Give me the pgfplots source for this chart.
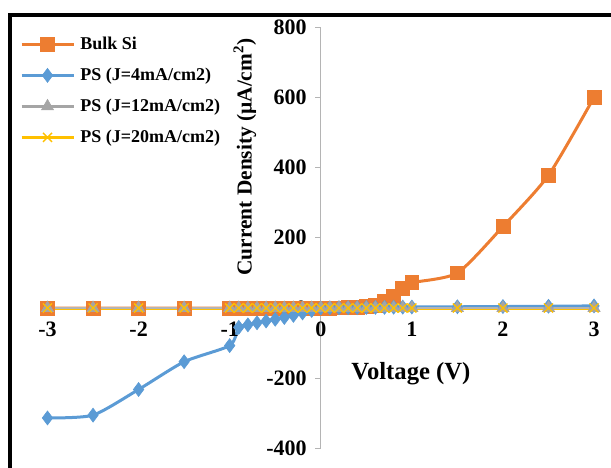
\documentclass[border=0pt]{standalone}
\usepackage{fontspec}
\setmainfont{Liberation Serif}
\usepackage{pgfplots}
\usepackage{pgfplotstable}
\pgfplotsset{compat=1.18}
\definecolor{cOr}{HTML}{ED7D31}
\definecolor{cBl}{HTML}{5B9BD5}
\definecolor{cGr}{HTML}{A5A5A5}
\definecolor{cYe}{HTML}{FFC000}
\definecolor{cAx}{HTML}{B4B4B4}
\pgfplotstableread{
x bulk ps4 ps12 ps20
-3 0 -313 0 0
-2.5 0 -305 0 0
-2 0 -232 0 0
-1.5 0 -153 0 0
-1 0 -107 0 0
-0.9 0 -55 0 0
-0.8 0 -48 0 0
-0.7 0 -42 0 0
-0.6 0 -37 0 0
-0.5 0 -32 0 0
-0.4 0 -27 0 0
-0.3 0 -21 0 0
-0.2 0 -14 0 0
-0.1 0 -7 0 0
0 0 0 0 0
0.1 0.3 0.5 0 0
0.2 0.6 0.8 0 0
0.3 1 1 0 0
0.4 2 1.2 0 0
0.5 4 1.5 0 0
0.6 8 1.8 0 0
0.7 18 2 0 0
0.8 33 2.2 0 0
0.9 55 2.5 0 0
1 72 2.8 0 0
1.5 100 3.5 0 0
2 232 4.2 0 0
2.5 378 5 0 0
3 600 6 0 0
}\data
\begin{document}
\begin{tikzpicture}
\begin{axis}[
  scale only axis, width=409.9pt, height=316.1pt,
  at={(35.625pt,14.625pt)}, anchor=south west,
  xmin=-3, xmax=3, ymin=-400, ymax=800,
  axis lines=middle, axis on top,
  axis line style={draw=cAx, line width=0.8pt, -},
  xtick={-3,-2,-1,0,1,2,3}, xticklabels={-3,-2,-1,0,1,2,3},
  ytick={-400,-200,0,200,400,600,800}, yticklabels={-400,-200,0,200,400,600,800},
  hide obscured x ticks=false, hide obscured y ticks=false,
  tick align=outside, major tick length=4pt,
  tick style={draw=cAx, line width=0.8pt},
  x tick style={draw=none},
  tick label style={font=\fontsize{16.5}{18}\selectfont\bfseries},
  yticklabel style={xshift=-3pt},
  xticklabel style={yshift=-3pt},
  clip=false,
  legend cell align=left,
  legend style={draw=none, fill=none, inner sep=0pt, outer sep=0pt,
    at={(-0.0503,0.9794)}, anchor=north west,
    font=\fontsize{13.5}{15}\selectfont\bfseries,
    nodes={inner sep=0pt, text height=10pt, text depth=3pt},
    row sep=10.25pt,
    /tikz/every odd column/.append style={column sep=4pt}},
  legend image code/.code={\draw[mark repeat=2,mark phase=2] plot coordinates {(0pt,0pt) (19.5pt,0pt) (39pt,0pt)};},
  every axis plot/.append style={line width=2.25pt, smooth, tension=0.4},
]
\addplot[cOr, mark=square*, mark size=5.2pt, mark options={line width=0.5pt}] table[x=x,y=bulk]{\data};
\addlegendentry{Bulk Si}
\addplot[cBl, mark=diamond*, mark size=5.2pt, mark options={line width=0.5pt}] table[x=x,y=ps4]{\data};
\addlegendentry{PS (J=4mA/cm2)}
\addplot[cGr, mark=triangle*, mark size=5.2pt, mark options={line width=0.5pt}] table[x=x,y=ps12]{\data};
\addlegendentry{PS (J=12mA/cm2)}
\addplot[cYe, mark=x, mark size=4.8pt, mark options={line width=1pt}] table[x=x,y=ps20]{\data};
\addlegendentry{PS (J=20mA/cm2)}
\node[rotate=90, font=\fontsize{16}{18}\selectfont\bfseries] at (axis cs:-0.834,430) {Current Density (µA/cm\textsuperscript{2})};
\node[font=\fontsize{18.5}{20}\selectfont\bfseries] at (axis cs:0.99,-186) {Voltage (V)};
\end{axis}
\draw[line width=3pt] (7.5pt,-5pt) -- (7.5pt,340pt) -- (470pt,340pt);
\pgfresetboundingbox
\useasboundingbox (0,0) rectangle (458.25pt,351pt);
\end{tikzpicture}
\end{document}
